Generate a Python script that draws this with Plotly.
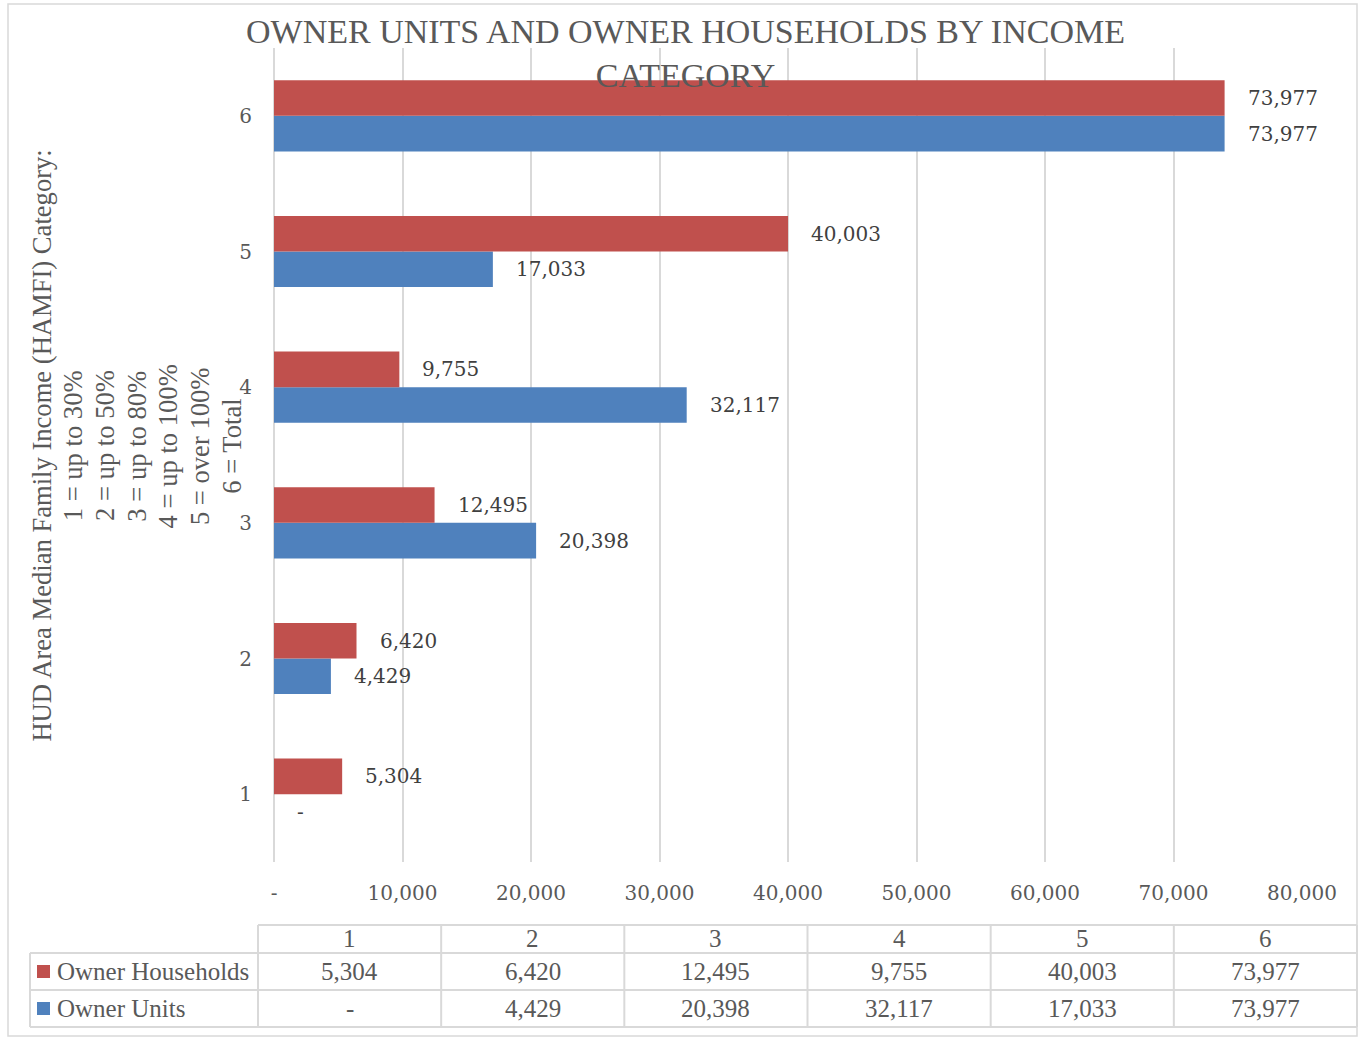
import plotly.graph_objects as go

categories = [1, 2, 3, 4, 5, 6]
owner_households = [5304, 6420, 12495, 9755, 40003, 73977]
owner_units = [0, 4429, 20398, 32117, 17033, 73977]
x_tickvals = [0, 10000, 20000, 30000, 40000, 50000, 60000, 70000, 80000]
x_ticktext = ["-", "10,000", "20,000", "30,000", "40,000", "50,000", "60,000", "70,000", "80,000"]
series_names = ["Owner Households", "Owner Units"]
title_text = "OWNER UNITS AND OWNER HOUSEHOLDS BY INCOME<br>CATEGORY"
ytitle_lines = ["HUD Area Median Family Income (HAMFI) Category:", "1 = up to 30%", "2 = up to 50%",
                "3 = up to 80%", "4 = up to 100%", "5 = over 100%", "6 = Total"]

RED = "#C0504D"
BLUE = "#4F81BD"
GRID = "#D9D9D9"
TXT = "#595959"
LBL = "#404040"
SERIF = "DejaVu Serif"
COND = "Liberation Serif"

W, H = 1363, 1040
L, R, T, B = 274, 1302, 48, 862


def xp(px):
    return (px - L) / (R - L)


def yp(py):
    return (B - py) / (B - T)


def fmt(v):
    return "-" if v == 0 else f"{v:,}"


fig = go.Figure()
fig.add_trace(go.Bar(y=categories, x=owner_units, orientation="h", name=series_names[1],
                     marker=dict(color=BLUE, line=dict(width=0)), showlegend=False, hoverinfo="skip"))
fig.add_trace(go.Bar(y=categories, x=owner_households, orientation="h", name=series_names[0],
                     marker=dict(color=RED, line=dict(width=0)), showlegend=False, hoverinfo="skip"))

annotations = []
# data labels
for cat, v in zip(categories, owner_households):
    annotations.append(dict(x=v, y=cat, xref="x", yref="y", text=fmt(v), showarrow=False,
                            xanchor="left", yanchor="middle", xshift=21, yshift=17.7,
                            font=dict(family=SERIF, size=20, color=LBL)))
for cat, v in zip(categories, owner_units):
    annotations.append(dict(x=v, y=cat, xref="x", yref="y", text=fmt(v), showarrow=False,
                            xanchor="left", yanchor="middle", xshift=21, yshift=-17.7,
                            font=dict(family=SERIF, size=20, color=LBL)))

# title
annotations.append(dict(x=xp(685), y=yp(11), xref="paper", yref="paper", text=title_text,
                        showarrow=False, xanchor="center", yanchor="top",
                        font=dict(family=COND, size=34, color=TXT)))
# y-axis title, one rotated line each
for i, line in enumerate(ytitle_lines):
    annotations.append(dict(x=xp(41.6 + 31.7 * i), y=yp(446), xref="paper", yref="paper",
                            text=line, textangle=-90, showarrow=False,
                            xanchor="center", yanchor="middle", align="center",
                            font=dict(family=COND, size=26.6, color=TXT)))

shapes = []
# outer border
shapes.append(dict(type="rect", xref="paper", yref="paper", x0=xp(8), x1=xp(1357), y0=yp(4), y1=yp(1036),
                   line=dict(color=GRID, width=1.5), layer="below"))

# data table
col_edges = [258 + i * (1357 - 258) / 6 for i in range(7)]
row_edges = [925, 953, 990, 1027]
lw = 2
shapes.append(dict(type="line", xref="paper", yref="paper", x0=xp(col_edges[0]), x1=xp(col_edges[-1]),
                   y0=yp(row_edges[0]), y1=yp(row_edges[0]), line=dict(color=GRID, width=lw)))
for ry in row_edges[1:]:
    shapes.append(dict(type="line", xref="paper", yref="paper", x0=xp(30), x1=xp(col_edges[-1]),
                       y0=yp(ry), y1=yp(ry), line=dict(color=GRID, width=lw)))
for cx in col_edges:
    shapes.append(dict(type="line", xref="paper", yref="paper", x0=xp(cx), x1=xp(cx),
                       y0=yp(row_edges[0]), y1=yp(row_edges[-1]), line=dict(color=GRID, width=lw)))
shapes.append(dict(type="line", xref="paper", yref="paper", x0=xp(30), x1=xp(30),
                   y0=yp(row_edges[1]), y1=yp(row_edges[-1]), line=dict(color=GRID, width=lw)))

for i, cat in enumerate(categories):
    cx = (col_edges[i] + col_edges[i + 1]) / 2
    cy = (row_edges[0] + row_edges[1]) / 2
    annotations.append(dict(x=xp(cx), y=yp(cy), xref="paper", yref="paper", text=str(cat), showarrow=False,
                            xanchor="center", yanchor="middle", font=dict(family=COND, size=25, color=TXT)))

table_rows = [(series_names[0], owner_households, RED), (series_names[1], owner_units, BLUE)]
for r, (name, vals, col) in enumerate(table_rows):
    cy = (row_edges[r + 1] + row_edges[r + 2]) / 2
    shapes.append(dict(type="rect", xref="paper", yref="paper", x0=xp(37), x1=xp(50),
                       y0=yp(cy - 6.5), y1=yp(cy + 6.5), fillcolor=col, line=dict(width=0)))
    annotations.append(dict(x=xp(55), y=yp(cy), xref="paper", yref="paper", text=name, showarrow=False,
                            xanchor="left", yanchor="middle", font=dict(family=COND, size=25, color=TXT)))
    for i, v in enumerate(vals):
        cx = (col_edges[i] + col_edges[i + 1]) / 2
        annotations.append(dict(x=xp(cx), y=yp(cy), xref="paper", yref="paper", text=fmt(v),
                                showarrow=False, xanchor="center", yanchor="middle",
                                font=dict(family=COND, size=25, color=TXT)))

fig.update_layout(
    width=W, height=H,
    margin=dict(l=L, r=W - R, t=T, b=H - B, autoexpand=False),
    paper_bgcolor="white", plot_bgcolor="white",
    barmode="group", bargap=0.476, bargroupgap=0,
    showlegend=False,
    annotations=annotations, shapes=shapes,
    xaxis=dict(range=[0, 80000], tickvals=x_tickvals, ticktext=x_ticktext,
               showgrid=True, gridcolor=GRID, gridwidth=2, zeroline=True, zerolinecolor=GRID, zerolinewidth=2,
               showline=False, ticks="", ticklabelstandoff=17,
               tickfont=dict(family=SERIF, size=20, color=TXT), fixedrange=True),
    yaxis=dict(range=[0.5, 6.5], tickvals=categories, ticktext=[str(c) for c in categories],
               showgrid=False, zeroline=False, showline=False, ticks="", ticklabelstandoff=21,
               tickfont=dict(family=SERIF, size=20, color=TXT), fixedrange=True),
)

fig.write_html("out.html", config={"displayModeBar": False},
               post_script="document.body.style.margin='0';")
